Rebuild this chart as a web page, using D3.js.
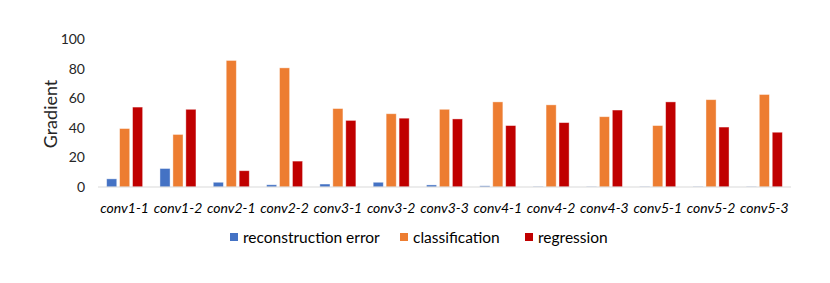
<!DOCTYPE html>
<html>
<head>
<meta charset="utf-8">
<script src="https://cdn.jsdelivr.net/npm/d3@7"></script>
<style>
  body { margin: 0; background: #fff; }
  svg { font-family: Lato, "Open Sans", sans-serif; }
</style>
</head>
<body>
<svg width="830" height="283"></svg>
<script>
const svg = d3.select("svg");

// datos
const categorias = ["conv1-1", "conv1-2", "conv2-1", "conv2-2", "conv3-1", "conv3-2", "conv3-3",
                    "conv4-1", "conv4-2", "conv4-3", "conv5-1", "conv5-2", "conv5-3"];
const series = ["reconstruction error", "classification", "regression"];
const reconstruccion = [5.5, 12.5, 3.2, 1.5, 2, 3.2, 1.4, 0.8, 0.3, 0.2, 0.2, 0.2, 0.2];
const clasificacion = [39.5, 35.5, 85.5, 80.5, 53, 49.5, 52.5, 57.5, 55.5, 47.5, 41.5, 59, 62.5];
const regresion = [54, 52.5, 11, 17.5, 45, 46.5, 46, 41.5, 43.5, 52, 57.5, 40.5, 37];
const yTicks = [0, 20, 40, 60, 80, 100];
const colores = ["#4472C4", "#ED7D31", "#C00000"];

const valores = [reconstruccion, clasificacion, regresion];

// escalas
const xScale = d3.scaleBand().domain(categorias).range([98, 791]);
const xSerie = d3.scaleBand().domain(series).range([0, 36]).paddingInner(0.22);
const yScale = d3.scaleLinear().domain([0, 100]).range([187, 39]);

// etiquetas eje y
svg.append("g")
    .selectAll("text")
    .data(yTicks)
    .join("text")
    .attr("x", 85)
    .attr("y", d => yScale(d))
    .attr("dy", "0.35em")
    .attr("text-anchor", "end")
    .attr("font-size", "14px")
    .attr("fill", "#262626")
    .text(d => d);

svg.append("text")
    .attr("transform", "translate(57,114) rotate(-90)")
    .attr("text-anchor", "middle")
    .attr("font-size", "18px")
    .attr("fill", "#262626")
    .text("Gradient");

// barras
categorias.forEach((c, i) => {
    const g = svg.append("g")
        .attr("transform", `translate(${xScale(c) + xScale.bandwidth() / 2 - 18},0)`);
    series.forEach((s, j) => {
        const v = valores[j][i];
        g.append("rect")
            .attr("x", xSerie(s))
            .attr("y", yScale(v))
            .attr("width", xSerie.bandwidth())
            .attr("height", yScale(0) - yScale(v))
            .attr("fill", colores[j])
            .attr("stroke", "#fff")
            .attr("stroke-opacity", 0.5)
            .attr("stroke-width", 0.8);
    });
});

// linea base
svg.append("line")
    .attr("x1", 98).attr("x2", 791)
    .attr("y1", yScale(0)).attr("y2", yScale(0))
    .attr("stroke", "#d9d9d9")
    .attr("stroke-width", 1);

// etiquetas categorias
svg.append("g")
    .selectAll("text")
    .data(categorias)
    .join("text")
    .attr("x", d => xScale(d) + xScale.bandwidth() / 2)
    .attr("y", 213)
    .attr("text-anchor", "middle")
    .attr("font-size", "14px")
    .attr("font-style", "italic")
    .attr("fill", "#000")
    .text(d => d);

// leyenda
const leyendaX = [230, 400, 525];
series.forEach((s, j) => {
    svg.append("rect")
        .attr("x", leyendaX[j])
        .attr("y", 233)
        .attr("width", 8)
        .attr("height", 8)
        .attr("fill", colores[j]);
    svg.append("text")
        .attr("x", leyendaX[j] + 13)
        .attr("y", 243)
        .attr("font-size", "15.5px")
        .attr("fill", "#000")
        .text(s);
});
</script>
</body>
</html>
